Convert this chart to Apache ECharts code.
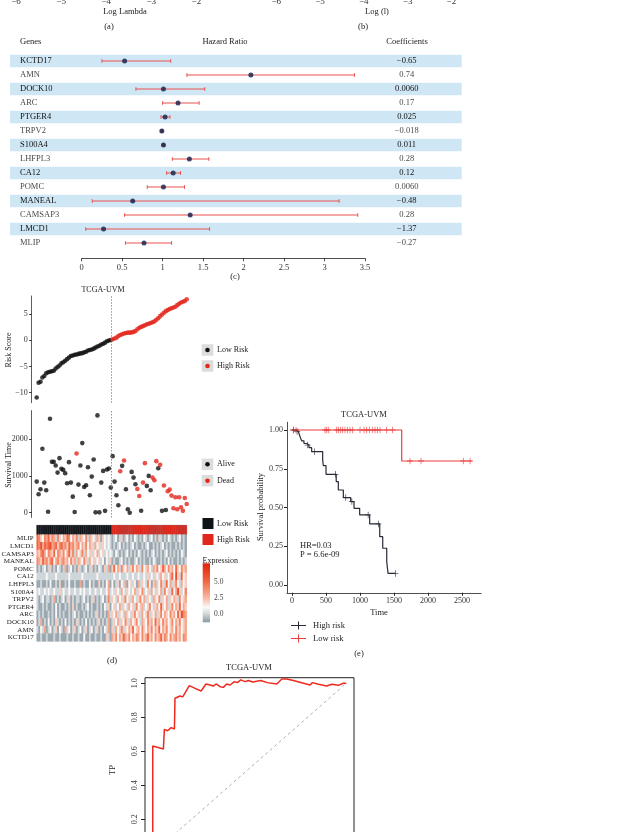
<!DOCTYPE html>
<html><head><meta charset="utf-8">
<script src="https://cdn.jsdelivr.net/npm/echarts@6/dist/echarts.min.js"></script>
<style>html,body{margin:0;padding:0;background:#fff}#c{width:625px;height:832px}</style>
</head><body><div id="c"></div>
<script>
const FONT = '"Liberation Serif", "DejaVu Serif", serif';
// ---- (a)/(b) cut-off tick labels
const lambdaTicks = [-6, -5, -4, -3, -2];
// ---- (c) forest plot
const forestGenes = ['KCTD17','AMN','DOCK10','ARC','PTGER4','TRPV2','S100A4','LHFPL3','CA12','POMC','MANEAL','CAMSAP3','LMCD1','MLIP'];
const hr     = [0.53,2.09,1.01,1.19,1.03,0.99,1.01,1.33,1.13,1.01,0.63,1.34,0.27,0.77];
const hrLow  = [0.25,1.30,0.67,1.00,0.98,0.98,1.00,1.12,1.05,0.81,0.13,0.53,0.05,0.54];
const hrHigh = [1.10,3.37,1.52,1.45,1.09,1.00,1.02,1.57,1.22,1.27,3.18,3.41,1.58,1.11];
const coefLabels = ['\u22120.65','0.74','0.0060','0.17','0.025','\u22120.018','0.011','0.28','0.12','0.0060','\u22120.48','0.28','\u22121.37','\u22120.27'];
const shaded = [1,0,1,0,1,0,1,0,1,0,1,0,1,0];
const hrTicks = [0,0.5,1,1.5,2,2.5,3,3.5];
// ---- (d) risk score
const riskLow = [-10.9,-8.1,-7.9,-7.1,-6.8,-6.3,-6.1,-6.0,-5.9,-5.8,-5.4,-5.1,-4.8,-4.4,-4.2,-3.9,-3.6,-3.3,-3.0,-2.9,-2.75,-2.7,-2.6,-2.5,-2.45,-2.3,-2.2,-1.95,-1.85,-1.75,-1.6,-1.4,-1.2,-1.05,-0.8,-0.65,-0.45,-0.2,-0.05,0.05];
const riskHigh = [0.2,0.35,0.5,0.8,1.0,1.15,1.3,1.4,1.45,1.45,1.5,1.6,1.75,2.1,2.4,2.55,2.7,2.85,3.05,3.15,3.3,3.45,3.6,3.9,4.2,4.6,4.9,5.25,5.55,5.75,5.95,6.1,6.25,6.4,6.7,6.95,7.2,7.35,7.5,7.8];
const riskTicks = [-10,-5,0,5];
// ---- (d) survival time / status (1 = dead)
const survTime = [843,500,636,1731,815,609,27,2546,1378,1378,1277,1087,1478,1188,1160,1070,799,1370,815,435,20,1603,761,1277,1886,698,744,1233,473,978,1440,10,2636,10,815,1133,50,1170,1197,680,
                  1532,843,473,200,1124,1269,1413,636,92,0,1106,951,772,644,454,54,815,1342,726,997,609,951,880,1396,1206,1296,50,735,72,581,626,463,120,418,92,418,147,50,399,236];
const survStatus = [0,0,0,0,0,0,0,0,0,0,0,0,0,0,0,0,0,0,0,0,0,1,0,0,0,0,0,0,0,0,0,0,0,0,0,0,0,0,0,0,
                    0,0,0,0,1,0,1,0,0,0,0,0,0,1,1,0,1,1,0,0,0,1,1,1,0,1,0,1,0,1,1,1,1,1,1,1,1,1,1,1];
const survTicks = [0,1000,2000];
const nLow = 40;
// ---- (d) expression heatmap (rows top to bottom)
const heatGenes = ['MLIP','LMCD1','CAMSAP3','MANEAL','POMC','CA12','LHFPL3','S100A4','TRPV2','PTGER4','ARC','DOCK10','AMN','KCTD17'];
const exprMLIP   = [5,4,2,1,4,3,5,2,4,3,0,4,2,1,3,2,5,4,1,3,2,4,0,3,2,1,4,0,3,2,1,0,3,2,-1,2,1,0,1,0, -1,0,1,-1,0,2,-1,0,1,-1,0,-1,1,0,-1,0,-1,1,0,-1,0,1,-1,0,-1,2,0,-1,0,-1,1,0,-1,0,-1,0,1,-1,0,-1];
const exprLMCD1  = [5,4,6,3,5,4,5,6,3,4,5,2,4,5,3,4,2,5,3,4,2,3,4,1,3,2,4,1,3,2,0,3,1,2,0,2,1,0,1,0, -1,0,-1,0,1,-1,0,-1,0,-1,0,1,-1,0,-1,-1,0,-1,0,1,-1,-1,0,-1,0,-1,0,1,-1,0,-1,0,-1,-1,0,-1,0,-1,0,-1];
const exprCAMSAP3= [3,2,4,5,3,1,4,3,2,5,1,4,3,2,4,1,3,5,2,4,0,3,1,2,4,0,3,1,2,0,2,1,3,0,1,2,0,1,0,1, 0,-1,1,0,-1,0,-1,0,1,-1,0,-1,0,-1,1,0,-1,0,-1,0,-1,0,1,-1,0,-1,0,-1,0,1,-1,0,-1,0,-1,0,-1,1,0,-1];
const exprMANEAL = [4,3,2,5,3,4,2,4,5,1,3,4,2,3,4,2,3,1,4,2,3,0,3,2,1,4,2,0,3,1,2,0,1,2,0,1,-1,1,0,2, -1,0,-1,-1,0,1,-1,0,-1,0,-1,-1,0,1,-1,0,-1,0,-1,-1,0,-1,1,0,-1,-1,0,-1,0,-1,1,-1,0,-1,-1,0,-1,0,-1,0];
const exprPOMC   = [-1,0,-1,0,1,-1,0,2,-1,0,-1,1,0,-1,0,3,-1,0,1,-1,0,-1,2,0,-1,0,1,-1,0,2,-1,0,-1,1,0,-1,2,0,3,-1, 2,5,1,3,0,4,2,1,3,0,2,4,1,3,2,0,4,1,2,3,1,0,3,2,4,1,2,5,3,1,4,2,3,1,5,2,1,4,2,3];
const exprCA12   = [0,0,0,0,0,1,0,0,0,0,1,0,0,0,0,0,0,1,0,0,0,0,0,0,1,0,0,0,0,0,0,0,1,0,0,0,0,0,0,0, 0,1,0,0,1,0,0,0,1,0,0,1,0,0,1,0,0,1,0,2,0,1,0,2,1,0,3,1,2,0,1,3,5,1,6,2,0,5,1,2];
const exprLHFPL3 = [-1,-1,0,-1,-1,0,-1,1,-1,-1,0,-1,2,-1,-1,0,-1,1,-1,-1,0,-1,-1,3,-1,0,-1,-1,1,-1,0,-1,-1,2,-1,0,-1,1,3,-1, 1,-1,0,2,-1,1,0,3,-1,1,2,0,1,-1,3,0,2,1,0,4,1,-1,2,3,0,1,4,2,0,5,1,3,0,2,4,1,0,3,1,2];
const exprS100A4 = [0,1,0,0,1,0,1,0,0,1,0,0,2,0,1,0,0,1,0,0,1,0,0,1,0,1,0,0,1,0,0,1,0,0,1,0,0,1,3,0, 1,0,2,1,0,3,1,0,2,1,0,1,3,0,2,1,4,0,1,2,0,3,1,0,2,1,3,0,4,1,2,0,5,1,3,6,2,0,1,4];
const exprTRPV2  = [0,-1,0,1,-1,0,0,-1,0,3,-1,0,-1,0,1,-1,0,2,-1,0,-1,0,0,-1,0,1,-1,0,-1,0,2,-1,0,-1,0,1,-1,0,4,0, 2,1,0,3,1,2,0,4,1,2,0,3,1,0,2,4,1,3,0,2,1,0,3,2,1,4,0,2,1,3,0,2,1,3,2,0,4,1,2,3];
const exprPTGER4 = [0,-1,-1,0,-1,0,-1,-1,0,-1,1,-1,0,-1,-1,0,-1,0,-1,2,-1,0,-1,-1,0,-1,0,1,-1,0,-1,-1,0,-1,0,-1,1,0,2,-1, 1,2,0,1,3,0,2,1,0,3,1,2,0,4,1,2,3,0,1,2,4,1,0,2,3,1,5,2,1,3,0,2,4,1,3,2,5,1,3,2];
const exprARC    = [-1,0,-1,0,-1,-1,0,-1,0,-1,1,-1,0,-1,0,-1,-1,0,-1,0,1,-1,0,-1,-1,0,-1,0,-1,0,-1,0,2,-1,0,-1,0,-1,3,0, 2,1,3,0,2,1,0,3,2,1,0,2,4,1,2,0,3,1,2,4,0,2,1,3,0,2,4,1,3,2,1,4,2,3,1,5,2,6,4,3];
const exprDOCK10 = [-1,0,3,-1,0,-1,1,-1,0,-1,2,0,-1,0,-1,1,-1,0,-1,0,-1,2,0,-1,0,-1,1,-1,0,-1,0,-1,0,2,-1,0,-1,0,3,-1, 0,2,1,3,0,2,1,4,2,0,3,1,2,4,1,0,3,2,1,4,2,3,1,5,2,3,1,4,2,3,1,2,4,1,3,2,4,1,2,3];
const exprAMN    = [0,-1,1,0,3,-1,0,1,-1,0,2,-1,1,0,-1,3,0,1,-1,0,2,-1,0,1,-1,0,2,-1,0,1,-1,0,2,-1,0,-1,1,0,3,-1, 2,0,3,1,2,4,0,2,1,3,2,5,1,2,3,1,4,2,1,3,2,4,1,3,2,5,1,3,2,4,1,2,3,1,4,2,3,1,2,3];
const exprKCTD17 = [-1,-1,0,-1,-1,0,-1,-1,-1,0,-1,-1,0,-1,-1,-1,0,-1,-1,0,-1,-1,0,-1,-1,1,-1,-1,0,-1,-1,0,-1,-1,0,-1,-1,2,0,-1, 3,2,4,1,3,2,5,3,2,4,1,3,2,4,3,1,4,2,3,5,2,3,1,4,2,3,5,2,4,3,1,4,2,3,4,2,3,1,4,3];
const exprRows = [exprMLIP,exprLMCD1,exprCAMSAP3,exprMANEAL,exprPOMC,exprCA12,exprLHFPL3,exprS100A4,exprTRPV2,exprPTGER4,exprARC,exprDOCK10,exprAMN,exprKCTD17];
const exprLegendTicks = ['5.0','2.5','0.0'];
// ---- (e) Kaplan-Meier
const kmHighTime = [0,60,93,118,142,176,216,250,289,451,461,500,650,681,755,863,912,995,1142,1290,1334,1393,1412,1520];
const kmHighSurv = [1,0.99,0.979,0.958,0.93,0.913,0.903,0.886,0.86,0.806,0.77,0.714,0.667,0.613,0.564,0.538,0.495,0.452,0.394,0.312,0.237,0.151,0.075,0.075];
const kmHighCensT = [20,75,230,330,640,790,880,1120,1270,1520];
const kmHighCensS = [1,0.99,0.903,0.86,0.714,0.564,0.538,0.452,0.394,0.075];
const kmLowTime = [0,1613,2643];
const kmLowSurv = [1,0.8,0.8];
const kmLowCensT = [20,59,485,510,534,657,681,716,745,779,814,853,892,1000,1059,1098,1137,1186,1221,1255,1294,1392,1480,1735,1897,2519,2618];
const kmLowCensS = [1,1,1,1,1,1,1,1,1,1,1,1,1,1,1,1,1,1,1,1,1,1,1,0.8,0.8,0.8,0.8];
const kmTimeTicks = [0,500,1000,1500,2000,2500];
const kmSurvTicks = [0,0.25,0.5,0.75,1];
// ---- (f) ROC
const rocFP = [0,0,0.055,0.06,0.077,0.095,0.112,0.115,0.141,0.155,0.165,0.189,0.219,0.25,0.275,0.296,0.313,0.327,0.348,0.365,0.382,0.4,0.422,0.437,0.455,0.477,0.494,0.517,0.558,0.592,0.641,0.667,0.693,0.727,0.813,0.825,0.856,0.899,0.925,0.959,0.985,1.0];
const rocTP = [0,0.631,0.614,0.729,0.721,0.739,0.731,0.912,0.925,0.92,0.909,0.986,0.97,0.955,0.996,0.99,0.984,0.996,0.98,0.976,0.996,0.99,1.01,1.004,1.02,1.01,1.016,1.008,1.016,1.004,0.996,1.025,1.025,1.016,0.99,1.004,0.994,0.984,0.994,0.988,1.0,1.0];
const rocTicks = [0,0.2,0.4,0.6,0.8,1.0];

// ---------- styling helpers ----------
const minus = v => String(v).replace('-', '\u2212');
const plain = v => String(v);
const VMIN = -1.3, VMAX = 7.8;
const cStops = [[-1.3,[138,153,162]],[0,[208,215,218]],[1,[251,249,248]],[2.5,[248,183,161]],[5,[239,103,67]],[7.8,[227,32,11]]];
function colAt(v){
  for (let k=0;k<cStops.length-1;k++){
    const a=cStops[k], b=cStops[k+1];
    if (v<=b[0] || k===cStops.length-2){
      const t=Math.max(0,Math.min(1,(v-a[0])/(b[0]-a[0])));
      const c=a[1].map((x,j)=>Math.round(x+(b[1][j]-x)*t));
      return 'rgb('+c.join(',')+')';
    }
  }
}
const vmColors = []; for (let k=0;k<48;k++) vmColors.push(colAt(VMIN+(VMAX-VMIN)*k/47));
const gradStops = cStops.map(s=>({offset:(VMAX-s[0])/(VMAX-VMIN), color:'rgb('+s[1].join(',')+')'})).reverse();

const T = (text, x, y, o={}) => ({type:'text', x, y, rotation:o.rot||0, silent:true, z:100,
  style:{text, font:(o.size||8.5)+'px '+FONT, fill:o.color||'#222', align:o.align||'center', verticalAlign:'middle',
         textAlign:o.align||'center', textVerticalAlign:'middle'}});
const hidden = {show:false};
const noLine = {axisLine:{show:false, onZero:false}, axisTick:hidden, splitLine:hidden, axisLabel:hidden};

const sampleIdx = survTime.map((t,i)=>i);
const heatData = [];
exprRows.forEach((row,r)=>row.forEach((v,i)=>heatData.push([i,r,v])));

const plusIcon = 'path://M0,4h15v1h-15zM7,0.5h1v8h-1z';
const axLine = c => ({show:true, onZero:false, lineStyle:{color:c, width:0.8}});
const G = o => Object.assign({outerBoundsMode:'none', containLabel:false}, o);

const option = {
  animation:false,
  textStyle:{fontFamily:FONT},
  grid:[
    G({left:16, width:180.4, top:-37.5, height:26.5}),
    G({left:276.2, width:175.2, top:-37.5, height:26.5}),
    G({left:10, width:451.7, top:54, height:196}),
    G({left:81.7, width:283.3, top:54, height:196}),
    G({left:31.7, width:160, top:296, height:106.7}),
    G({left:31.7, width:160, top:410.6, height:106.9}),
    G({left:36.7, width:150, top:525.3, height:9.4}),
    G({left:36.7, width:150, top:534.7, height:106.6}),
    G({left:287, width:194, top:422.25, height:170.5}),
    G({left:145, width:209, top:677.7, height:182.4, show:true, borderColor:'#222', borderWidth:1, backgroundColor:'transparent'})
  ],
  xAxis:[
    {gridIndex:0, type:'value', min:-6, max:-2, interval:1, axisLine:{show:false,onZero:false}, axisTick:hidden, splitLine:hidden,
     axisLabel:{margin:8, fontSize:9, color:'#333', fontFamily:FONT, formatter:minus, customValues:lambdaTicks}},
    {gridIndex:1, type:'value', min:-6, max:-2, interval:1, axisLine:{show:false,onZero:false}, axisTick:hidden, splitLine:hidden,
     axisLabel:{margin:8, fontSize:9, color:'#333', fontFamily:FONT, formatter:minus, customValues:lambdaTicks}},
    {gridIndex:2, type:'value', min:0, max:1, ...noLine},
    {gridIndex:3, type:'value', min:0, max:3.5, interval:0.5, offset:8.3,
     axisLine:axLine('#222'), axisTick:{show:true, length:3, lineStyle:{color:'#222', width:0.8}},
     splitLine:hidden, axisLabel:{margin:5, fontSize:8.5, color:'#333', fontFamily:FONT, customValues:hrTicks}},
    {gridIndex:4, type:'value', min:-2.63, max:81.63, ...noLine},
    {gridIndex:5, type:'value', min:-2.63, max:81.63, ...noLine},
    {gridIndex:6, type:'category', data:sampleIdx, ...noLine},
    {gridIndex:7, type:'category', data:sampleIdx, ...noLine},
    {gridIndex:8, type:'value', min:-73.5, max:2779,
     axisLine:axLine('#222'), axisTick:{show:true, length:3, customValues:kmTimeTicks, lineStyle:{color:'#222'}},
     splitLine:hidden, axisLabel:{margin:4, fontSize:8, color:'#333', fontFamily:FONT, customValues:kmTimeTicks, formatter:plain}},
    {gridIndex:9, type:'value', min:-0.04, max:1.04, ...noLine}
  ],
  yAxis:[
    {gridIndex:0, type:'value', show:false, axisLine:{onZero:false}},
    {gridIndex:1, type:'value', show:false, axisLine:{onZero:false}},
    {gridIndex:2, type:'category', data:forestGenes, inverse:true, z:10, axisLine:{show:false,onZero:false}, axisTick:hidden, splitLine:hidden,
     axisLabel:{align:'left', margin:-10, fontFamily:FONT, fontSize:8.5,
       formatter:(v,i)=> (shaded[i] ? '{d|' : '{l|') + v + '}',
       rich:{d:{color:'#111', fontSize:8.5, fontFamily:FONT}, l:{color:'#4a4a4a', fontSize:8.5, fontFamily:FONT}}}},
    {gridIndex:2, type:'category', data:forestGenes, inverse:true, position:'right', z:10, axisLine:{show:false,onZero:false}, axisTick:hidden, splitLine:hidden,
     axisLabel:{align:'center', margin:-55, fontFamily:FONT, fontSize:8.5,
       formatter:(v,i)=> (shaded[i] ? '{d|' : '{l|') + coefLabels[i] + '}',
       rich:{d:{color:'#111', fontSize:8.5, fontFamily:FONT}, l:{color:'#4a4a4a', fontSize:8.5, fontFamily:FONT}}}},
    {gridIndex:3, type:'category', data:forestGenes, inverse:true, ...noLine},
    {gridIndex:4, type:'value', min:-11.9, max:8.44,
     axisLine:axLine('#333'), axisTick:{show:true, length:2.5, customValues:riskTicks, lineStyle:{color:'#333'}},
     splitLine:hidden, axisLabel:{margin:4, fontSize:8, color:'#333', fontFamily:FONT, formatter:minus, customValues:riskTicks}},
    {gridIndex:5, type:'value', min:-130, max:2766,
     axisLine:axLine('#333'), axisTick:{show:true, length:2.5, customValues:survTicks, lineStyle:{color:'#333'}},
     splitLine:hidden, axisLabel:{margin:4, fontSize:8, color:'#333', fontFamily:FONT, customValues:survTicks, formatter:plain}},
    {gridIndex:6, type:'category', data:['group'], ...noLine},
    {gridIndex:7, type:'category', data:heatGenes, inverse:true, axisLine:{show:false,onZero:false}, axisTick:hidden, splitLine:hidden,
     axisLabel:{margin:3, fontSize:7, color:'#222', fontFamily:FONT, interval:0}},
    {gridIndex:8, type:'value', min:-0.05, max:1.05,
     axisLine:axLine('#222'), axisTick:{show:true, length:3, customValues:kmSurvTicks, lineStyle:{color:'#222'}},
     splitLine:hidden, axisLabel:{margin:4, fontSize:8, color:'#333', fontFamily:FONT, customValues:kmSurvTicks, formatter:v=>v.toFixed(2)}},
    {gridIndex:9, type:'value', min:-0.04, max:1.033, axisLine:{show:false, onZero:false},
     axisTick:{show:true, length:4, customValues:rocTicks, lineStyle:{color:'#222'}}, splitLine:hidden,
     axisLabel:{margin:6, rotate:90, fontSize:8, color:'#333', fontFamily:FONT, customValues:rocTicks.slice(1), formatter:v=>v.toFixed(1)}}
  ],
  visualMap:[
    {type:'continuous', min:VMIN, max:VMAX, seriesIndex:8, dimension:2, show:false, inRange:{color:vmColors}},
    {type:'piecewise', seriesIndex:7, dimension:2, show:false, pieces:[{value:0, color:'#0f1318'},{value:1, color:'#e2261b'}]}
  ],
  legend:[{
    orient:'vertical', left:286, top:616, itemWidth:15, itemHeight:8, itemGap:4, selectedMode:false,
    textStyle:{fontFamily:FONT, fontSize:8.5, color:'#222', padding:[0,0,0,2]},
    data:[{name:'High risk', icon:plusIcon}, {name:'Low risk', icon:plusIcon}]
  }],
  series:[
    {type:'bar', xAxisIndex:2, yAxisIndex:2, data:shaded, barWidth:12.6, silent:true, z:-5, itemStyle:{color:'#cfe7f5'}},
    {type:'custom', xAxisIndex:3, yAxisIndex:4, silent:true, z:5,
     data:forestGenes.map((g,i)=>[hrLow[i], hrHigh[i], i]), encode:{x:[0,1], y:2},
     renderItem:(params, api)=>{
       const lo = api.coord([api.value(0), api.value(2)]);
       const hi = api.coord([api.value(1), api.value(2)]);
       const st = {stroke:'#e9514f', lineWidth:1};
       return {type:'group', children:[
         {type:'line', shape:{x1:lo[0], y1:lo[1], x2:hi[0], y2:hi[1]}, style:st},
         {type:'line', shape:{x1:lo[0], y1:lo[1]-1.8, x2:lo[0], y2:lo[1]+1.8}, style:st},
         {type:'line', shape:{x1:hi[0], y1:hi[1]-1.8, x2:hi[0], y2:hi[1]+1.8}, style:st}
       ]};
     }},
    {type:'scatter', xAxisIndex:3, yAxisIndex:4, silent:true, symbolSize:5, z:6, itemStyle:{color:'#101c48'},
     data:hr.map((v,i)=>[v,i])},
    {type:'scatter', xAxisIndex:4, yAxisIndex:5, silent:true, symbolSize:4.6, itemStyle:{color:'#111'},
     data:riskLow.map((v,i)=>[i,v]),
     markLine:{silent:true, symbol:['none','none'], label:{show:false}, lineStyle:{type:[1.5,1.5], color:'#777', width:0.8}, data:[{xAxis:nLow-0.5}]}},
    {type:'scatter', xAxisIndex:4, yAxisIndex:5, silent:true, symbolSize:4.6, itemStyle:{color:'#e3261b'},
     data:riskHigh.map((v,i)=>[i+nLow,v])},
    {type:'scatter', xAxisIndex:5, yAxisIndex:6, silent:true, symbolSize:4.6, itemStyle:{color:'#111'},
     data:survTime.map((t,i)=>[i,t,survStatus[i]]).filter(d=>d[2]===0),
     markLine:{silent:true, symbol:['none','none'], label:{show:false}, lineStyle:{type:[1.5,1.5], color:'#777', width:0.8}, data:[{xAxis:nLow-0.5}]}},
    {type:'scatter', xAxisIndex:5, yAxisIndex:6, silent:true, symbolSize:4.6, itemStyle:{color:'#e3261b'},
     data:survTime.map((t,i)=>[i,t,survStatus[i]]).filter(d=>d[2]===1)},
    {type:'heatmap', xAxisIndex:6, yAxisIndex:7, silent:true,
     data:sampleIdx.map(i=>[i,0,i<nLow?0:1]), itemStyle:{borderColor:'rgba(110,110,110,0.55)', borderWidth:0.4}},
    {type:'heatmap', xAxisIndex:7, yAxisIndex:8, silent:true, data:heatData},
    {name:'High risk', type:'line', xAxisIndex:8, yAxisIndex:9, step:'end', showSymbol:false, symbol:'none', silent:true,
     data:kmHighTime.map((t,i)=>[t,kmHighSurv[i]]), lineStyle:{color:'#272b36', width:1.2}, itemStyle:{color:'#272b36'}},
    {name:'Low risk', type:'line', xAxisIndex:8, yAxisIndex:9, step:'end', showSymbol:false, symbol:'none', silent:true,
     data:kmLowTime.map((t,i)=>[t,kmLowSurv[i]]), lineStyle:{color:'#ec3b3b', width:1.2}, itemStyle:{color:'#ec3b3b'}},
    {type:'scatter', xAxisIndex:8, yAxisIndex:9, silent:true, symbol:'path://M0,3.2h7v0.9h-7zM3.05,0h0.9v7.3h-0.9z', symbolSize:[6,6.5],
     itemStyle:{color:'#272b36'}, data:kmHighCensT.map((t,i)=>[t,kmHighCensS[i]])},
    {type:'scatter', xAxisIndex:8, yAxisIndex:9, silent:true, symbol:'path://M0,3.2h7v0.9h-7zM3.05,0h0.9v7.3h-0.9z', symbolSize:[6,6.5],
     itemStyle:{color:'#ec3b3b'}, data:kmLowCensT.map((t,i)=>[t,kmLowCensS[i]])},
    {type:'line', xAxisIndex:9, yAxisIndex:10, silent:true, symbol:'none', data:[[0,0],[1,1]],
     lineStyle:{color:'#9a9a9a', width:0.8, type:[3,3]}},
    {type:'line', xAxisIndex:9, yAxisIndex:10, silent:true, symbol:'none', data:rocFP.map((f,i)=>[f,rocTP[i]]),
     lineStyle:{color:'#ee2a1f', width:1.5}}
  ],
  graphic:[
    T('Log Lambda', 125, 12, {size:8.5}),
    T('(a)', 109, 27, {size:8.5}),
    T('Log (l)', 377, 12, {size:8.5}),
    T('(b)', 363, 27, {size:8.5}),
    T('Genes', 20, 42, {align:'left'}),
    T('Hazard Ratio', 225, 42),
    T('Coefficients', 407, 42),
    T('(c)', 235, 277),
    T('TCGA-UVM', 103, 290, {size:8}),
    T('Risk Score', 9, 350, {rot:Math.PI/2, size:8}),
    T('Survival Time', 9, 465, {rot:Math.PI/2, size:8}),
    {type:'rect', shape:{x:201.7, y:344.3, width:11.6, height:11.4}, style:{fill:'#dcdcdc'}, silent:true},
    {type:'circle', shape:{cx:207.5, cy:350, r:2.3}, style:{fill:'#111'}, silent:true},
    T('Low Risk', 217, 350, {align:'left', size:8}),
    {type:'rect', shape:{x:201.7, y:360.3, width:11.6, height:11.4}, style:{fill:'#dcdcdc'}, silent:true},
    {type:'circle', shape:{cx:207.5, cy:366, r:2.3}, style:{fill:'#e3261b'}, silent:true},
    T('High Risk', 217, 366, {align:'left', size:8}),
    {type:'rect', shape:{x:201.7, y:458.6, width:11.6, height:11.4}, style:{fill:'#dcdcdc'}, silent:true},
    {type:'circle', shape:{cx:207.5, cy:464.3, r:2.3}, style:{fill:'#111'}, silent:true},
    T('Alive', 217, 464.3, {align:'left', size:8}),
    {type:'rect', shape:{x:201.7, y:475, width:11.6, height:11.4}, style:{fill:'#dcdcdc'}, silent:true},
    {type:'circle', shape:{cx:207.5, cy:480.7, r:2.3}, style:{fill:'#e3261b'}, silent:true},
    T('Dead', 217, 480.7, {align:'left', size:8}),
    {type:'rect', shape:{x:202.5, y:518, width:11, height:11}, style:{fill:'#0f1318'}, silent:true},
    T('Low Risk', 217, 523.5, {align:'left', size:8}),
    {type:'rect', shape:{x:202.5, y:534, width:11, height:11}, style:{fill:'#e2261b'}, silent:true},
    T('High Risk', 217, 539.5, {align:'left', size:8}),
    T('Expression', 202.5, 560.7, {align:'left', size:8}),
    {type:'rect', shape:{x:202.7, y:563.3, width:7.3, height:59}, silent:true,
     style:{fill:{type:'linear', x:0, y:0, x2:0, y2:1, colorStops:gradStops}}},
    T(exprLegendTicks[0], 214, 581.7, {align:'left', size:7.5, color:'#444'}),
    T(exprLegendTicks[1], 214, 598.3, {align:'left', size:7.5, color:'#444'}),
    T(exprLegendTicks[2], 214, 614, {align:'left', size:7.5, color:'#444'}),
    T('(d)', 112, 661),
    T('TCGA-UVM', 364, 415, {size:8.5}),
    T('Survival probability', 261, 507, {rot:Math.PI/2, size:8.5}),
    T('Time', 379, 613, {size:8.5}),
    T('HR=0.03', 300, 546, {align:'left', size:8.5}),
    T('P = 6.6e-09', 300, 555, {align:'left', size:8.5}),
    T('(e)', 359, 654),
    T('TCGA-UVM', 249, 668, {size:8.5}),
    T('TP', 113, 770, {rot:Math.PI/2, size:8.5})
  ]
};
const chart = echarts.init(document.getElementById('c'), null, {renderer:'canvas', width:625, height:832});
chart.setOption(option);
</script></body></html>
